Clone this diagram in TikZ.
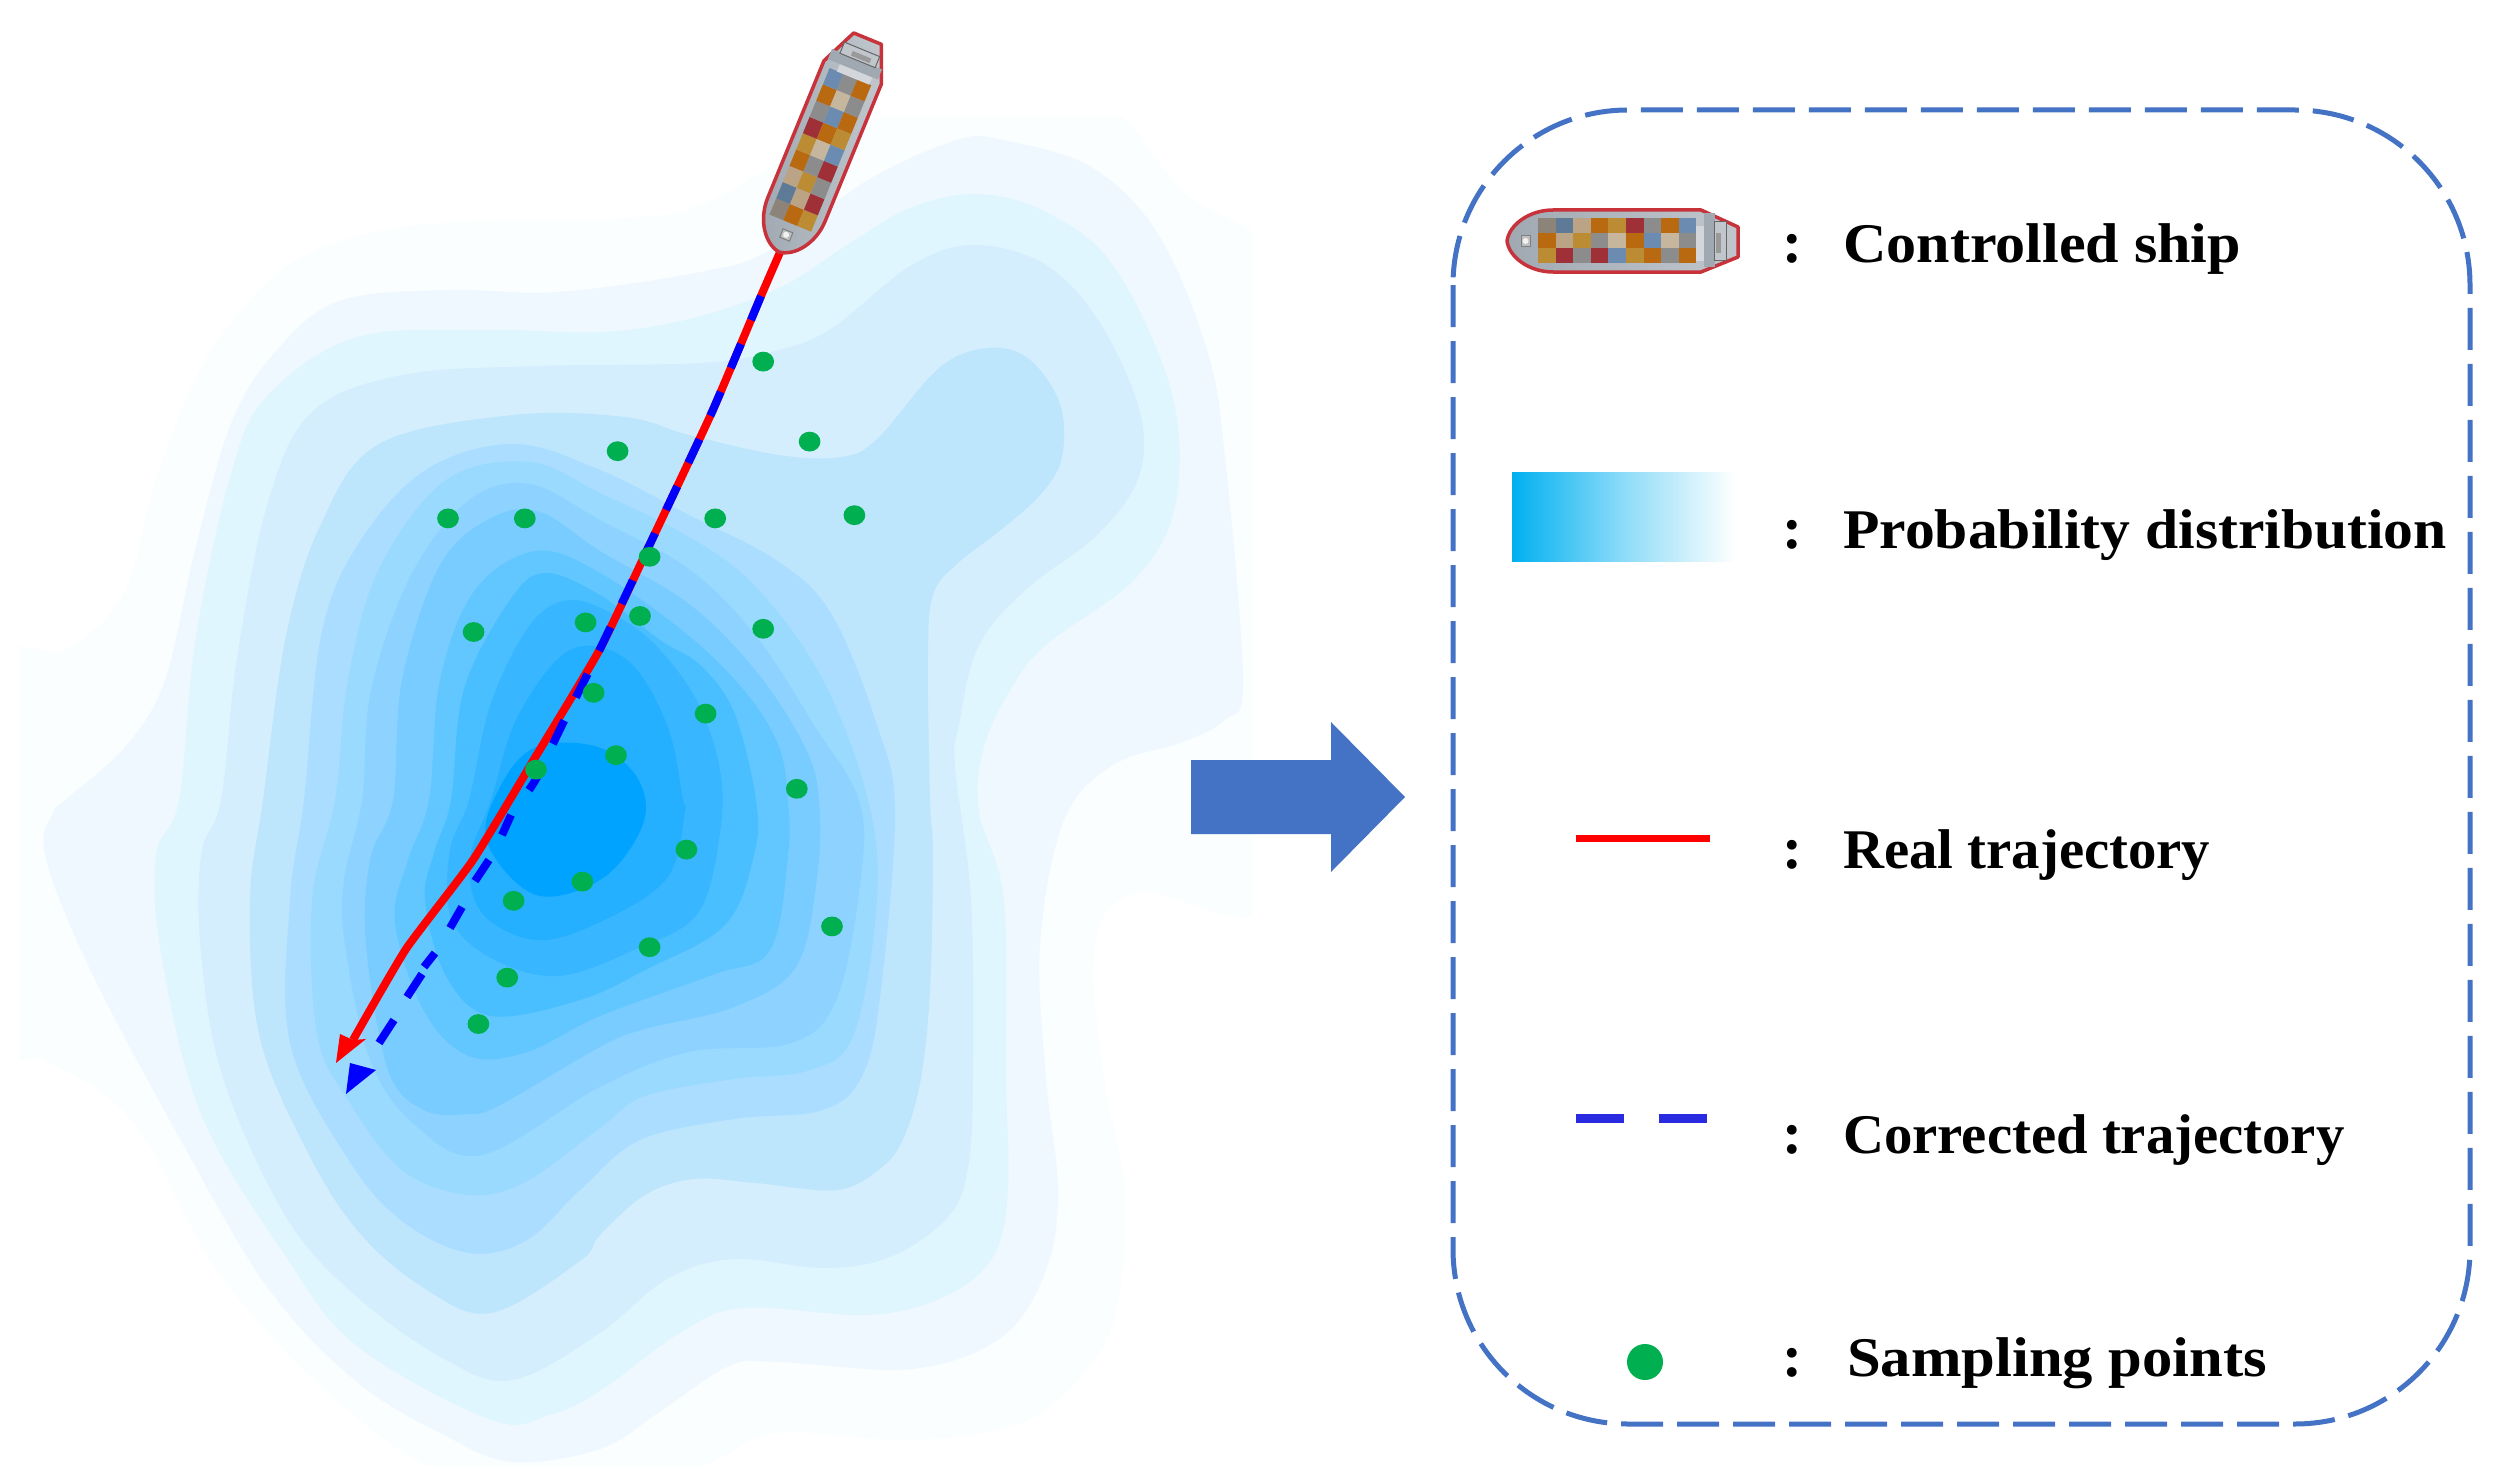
\documentclass[tikz,border=0pt]{standalone}
\usepackage{fontspec}
\setmainfont{Liberation Serif}
\usetikzlibrary{shadings}
\definecolor{cA}{HTML}{FAFEFF}\definecolor{cB}{HTML}{F0F8FF}\definecolor{cC}{HTML}{E0F6FF}
\definecolor{cD}{HTML}{D4EEFD}\definecolor{cE}{HTML}{BDE6FD}\definecolor{cF}{HTML}{AADDFF}
\definecolor{cG}{HTML}{9ADAFF}\definecolor{cH}{HTML}{8ED3FF}\definecolor{cI}{HTML}{78CCFF}
\definecolor{cJ}{HTML}{62C6FF}\definecolor{cK}{HTML}{4ABFFF}\definecolor{cL}{HTML}{38B6FF}
\definecolor{cM}{HTML}{24AFFF}\definecolor{cN}{HTML}{10A9FF}\definecolor{cO}{HTML}{00A3FF}
\definecolor{arrowblue}{HTML}{4472C4}\definecolor{ptgreen}{HTML}{00B050}
\definecolor{legendblue}{HTML}{2A2AE0}\definecolor{skyb}{HTML}{00B0F0}
\definecolor{kG}{HTML}{8C8478}\definecolor{kS}{HTML}{5F7A96}\definecolor{kT}{HTML}{BBA386}
\definecolor{kO}{HTML}{B9690F}\definecolor{kY}{HTML}{BC8C35}\definecolor{kR}{HTML}{A03038}
\definecolor{kN}{HTML}{8C8C8C}\definecolor{kB}{HTML}{6B8CB0}\definecolor{kW}{HTML}{C6B69E}
\definecolor{hullred}{HTML}{C8323A}\definecolor{deckA}{HTML}{A0A9B2}\definecolor{deckB}{HTML}{C0C6CC}
\tikzset{
  level/.style={fill=#1,draw=none},
  ptdot/.style={fill=ptgreen,draw=none},
  legendtext/.style={anchor=base west,font=\fontsize{56}{60}\selectfont\bfseries,inner sep=0pt},
  legendcolon/.style={anchor=base,font=\fontsize{60}{60}\selectfont\bfseries,inner sep=0pt}
}
\newcommand{\lev}[2]{\fill[level=#1] plot[smooth cycle,tension=0.6] coordinates {#2};}
\newcommand{\shipdraw}{%
  \draw[hullred,line width=3.5pt,line join=round,left color=deckA,right color=deckB]
    (0,0) .. controls (2,-16) and (22,-31) .. (46,-31) -- (194,-31) -- (231,-14) -- (231,16) -- (194,31) -- (46,31)
    .. controls (22,31) and (2,16) .. (0,0) -- cycle;
  \foreach \cx/\ca/\cb [count=\ci from 0] in {kG/kO/kY,kS/kT/kR,kT/kY/kN,kO/kN/kR,kY/kW/kB,kR/kO/kY,kN/kB/kO,kO/kW/kN,kB/kN/kO}{
    \fill[\cx] (31+\ci*17.6,-23) rectangle ++(17.6,15);
    \fill[\ca] (31+\ci*17.6,-8) rectangle ++(17.6,15);
    \fill[\cb] (31+\ci*17.6,7) rectangle ++(17.6,15);
  }
  \fill[deckB!70!white] (189,-15) rectangle (198,20);
  \fill[deckA] (197,-28) rectangle (208,26);
  \draw[gray!80!black,line width=1pt,fill=deckB] (207,-19) rectangle (219,19);
  \fill[gray!80] (209,-8) rectangle (214,12);
  \draw[gray,line width=1pt,fill=gray!50] (14,-5) rectangle (23,5.5);
  \fill[white!90!gray] (18.5,0) circle (3);
}
\begin{document}
\begin{tikzpicture}[x=1pt,y=-1pt]
\useasboundingbox (0,0) rectangle (2506,1466);
\begin{scope}
\clip (20,118) rectangle (1252,1466);
\lev{cA}{(-20,680)(67,649)(125,591)(156,479)(201,368)(254,296)(312,252)(402,227)(513,220)(625,218)(700,205)(800,150)(886,100)(1091,100)(1180,189)(1300,323)(1300,873)(1136,893)(1095,949)(1104,1078)(1125,1190)(1118,1302)(1091,1364)(1024,1422)(912,1440)(779,1433)(712,1462)(620,1500)(480,1490)(357,1418)(223,1279)(134,1123)(45,1060)(-20,1040)}
\lev{cB}{(54,811)(65,800)(125,747)(165,680)(196,546)(232,421)(277,350)(339,301)(446,290)(558,292)(700,272)(770,250)(868,180)(957,140)(1002,140)(1091,167)(1158,234)(1207,350)(1225,457)(1243,680)(1225,720)(1180,743)(1113,765)(1064,820)(1040,945)(1046,1078)(1058,1190)(1046,1270)(1002,1337)(912,1369)(779,1362)(729,1366)(658,1413)(600,1449)(513,1462)(446,1436)(357,1382)(268,1288)(179,1137)(89,967)(45,855)}
\lev{cC}{(179,800)(196,636)(232,470)(268,395)(357,337)(491,330)(600,332)(689,319)(779,288)(850,243)(912,207)(979,194)(1046,212)(1113,265)(1171,390)(1176,502)(1136,578)(1046,645)(1011,689)(984,747)(979,811)(1004,900)(1006,1078)(1008,1190)(993,1257)(944,1297)(868,1315)(743,1308)(680,1333)(600,1391)(550,1415)(491,1420)(357,1346)(286,1257)(201,1114)(161,953)(156,855)}
\lev{cD}{(221,800)(237,658)(268,502)(312,412)(402,375)(536,366)(700,363)(779,350)(832,328)(912,265)(975,245)(1046,265)(1100,323)(1140,412)(1138,479)(1095,537)(1029,587)(979,645)(959,725)(955,766)(971,900)(973,1078)(968,1168)(948,1217)(890,1257)(823,1268)(734,1259)(667,1279)(600,1333)(513,1380)(446,1360)(357,1297)(286,1217)(223,1078)(201,953)(201,855)}
\lev{cE}{(263,800)(286,636)(321,524)(379,444)(513,415)(625,417)(689,435)(779,455)(841,457)(877,439)(939,368)(988,348)(1029,359)(1060,404)(1062,457)(1042,493)(1002,529)(957,564)(933,595)(928,658)(930,800)(933,855)(930,989)(921,1078)(904,1137)(881,1168)(837,1190)(756,1183)(694,1179)(645,1195)(600,1235)(580,1261)(491,1313)(424,1288)(357,1230)(304,1145)(259,1034)(250,900)}
\lev{cF}{(304,800)(321,636)(357,546)(424,471)(513,444)(600,470)(689,515)(779,562)(832,615)(877,725)(895,811)(881,989)(863,1074)(823,1110)(734,1119)(640,1140)(580,1190)(527,1240)(469,1253)(402,1221)(348,1159)(290,1043)(290,900)}
\lev{cG}{(335,800)(348,680)(379,569)(446,480)(530,462)(600,493)(689,537)(756,587)(823,680)(868,800)(877,900)(854,1034)(810,1070)(734,1079)(645,1096)(600,1128)(527,1181)(469,1195)(402,1170)(348,1100)(317,1034)(312,900)}
\lev{cH}{(362,800)(371,690)(411,575)(469,500)(530,484)(600,520)(689,569)(756,636)(814,725)(859,800)(861,878)(837,998)(792,1043)(689,1052)(600,1087)(482,1155)(415,1125)(370,1060)(345,945)(344,880)}
\lev{cI}{(393,800)(402,680)(440,565)(491,518)(540,512)(600,551)(689,604)(756,671)(805,747)(819,800)(817,878)(796,967)(734,1007)(645,1029)(600,1047)(500,1105)(469,1114)(424,1110)(388,1070)(366,945)(370,860)}
\lev{cJ}{(429,800)(440,680)(475,590)(536,551)(600,573)(689,636)(747,694)(779,747)(788,800)(788,855)(770,950)(712,975)(600,1016)(527,1052)(469,1056)(424,1011)(395,922)(408,860)}
\lev{cK}{(451,800)(464,689)(510,600)(545,573)(600,595)(660,640)(700,665)(734,712)(756,800)(754,855)(725,925)(645,970)(580,1000)(491,1016)(446,976)(425,900)(435,850)}
\lev{cL}{(469,800)(491,703)(530,625)(570,600)(620,618)(660,650)(698,703)(720,770)(720,833)(698,913)(636,949)(558,976)(491,958)(451,918)(450,850)}
\lev{cM}{(491,800)(518,716)(570,650)(627,660)(667,725)(683,800)(685,811)(667,878)(600,922)(536,940)(482,913)(470,860)}
\lev{cO}{(500,787)(536,747)(598,747)(638,779)(643,824)(603,878)(536,895)(487,842)}
\end{scope}
% trajectories
\draw[blue,line width=8pt] (511,815) -- (502,835) (489,860) -- (475,881) (462,907) -- (450,928) (435,953) -- (424,967) (422,974) -- (407,997) (394,1020) -- (379,1043);
\draw[red,line width=8pt] plot[smooth,tension=0.3] coordinates {(781,250)(761,296)(712,412)(649,546)(600,649)(536,756)(473,860)(406,949)(353,1040)};
\fill[red] (336,1063) -- (340,1034) -- (353,1040) -- (366,1039) -- cycle;
\draw[blue,line width=8pt,dash pattern=on 26pt off 26pt] plot[smooth,tension=0.3] coordinates {(761,296)(712,412)(649,546)(600,649)(563,723)(536,779)(522,800)};
\fill[blue] (346,1094) -- (350,1063) -- (376,1070) -- cycle;
% sampling points
\begin{scope}[x=1.6pt,y=-1.6pt]
\foreach \px/\py in {477/226,506/276,386/282,280/324,328/324,447/324,534/322,406/348,400/385,366/389,296/395,477/393,371/433,441/446,385/472,335/481,498/493,429/531,364/551,321/563,520/579,406/592,317/611,299/640}
  \fill[ptdot] (\px,\py) ellipse [x radius=6.8,y radius=6.2];
\end{scope}
% ship
\begin{scope}[shift={(779,252)},rotate=67.7]\shipdraw\end{scope}
% big arrow
\fill[arrowblue] (1191,760) -- (1331,760) -- (1331,722) -- (1405,797) -- (1331,872) -- (1331,834) -- (1191,834) -- cycle;
% legend frame
\draw[arrowblue,line width=5pt,dash pattern=on 42pt off 14pt,rounded corners=175pt] (1453,110) rectangle (2470,1424);
% legend symbols
\begin{scope}[shift={(1507,241)}]\shipdraw\end{scope}
\shade[left color=skyb,right color=white,middle color=skyb!45] (1512,472) rectangle (1735,561);
\draw[red,line width=7pt] (1576,838) -- (1710,838);
\draw[legendblue,line width=9pt] (1576,1118) -- (1624,1118) (1659,1118) -- (1707,1118);
\fill[ptdot] (1645,1362) circle (18);
% text
\node[legendtext] at (1843,262) {\scalebox{1.073}[1]{Controlled ship}};
\node[legendtext] at (1843,548) {\scalebox{1.065}[1]{Probability distribution}};
\node[legendtext] at (1843,868) {\scalebox{1.013}[1]{Real trajectory}};
\node[legendtext] at (1843,1153) {\scalebox{1.013}[1]{Corrected trajectory}};
\node[legendtext] at (1847,1376) {\scalebox{1.083}[1]{Sampling points}};
\foreach \ty in {262,548,868,1153,1376}
  \node[legendcolon] at (1792,\ty) {:};
\end{tikzpicture}
\end{document}
